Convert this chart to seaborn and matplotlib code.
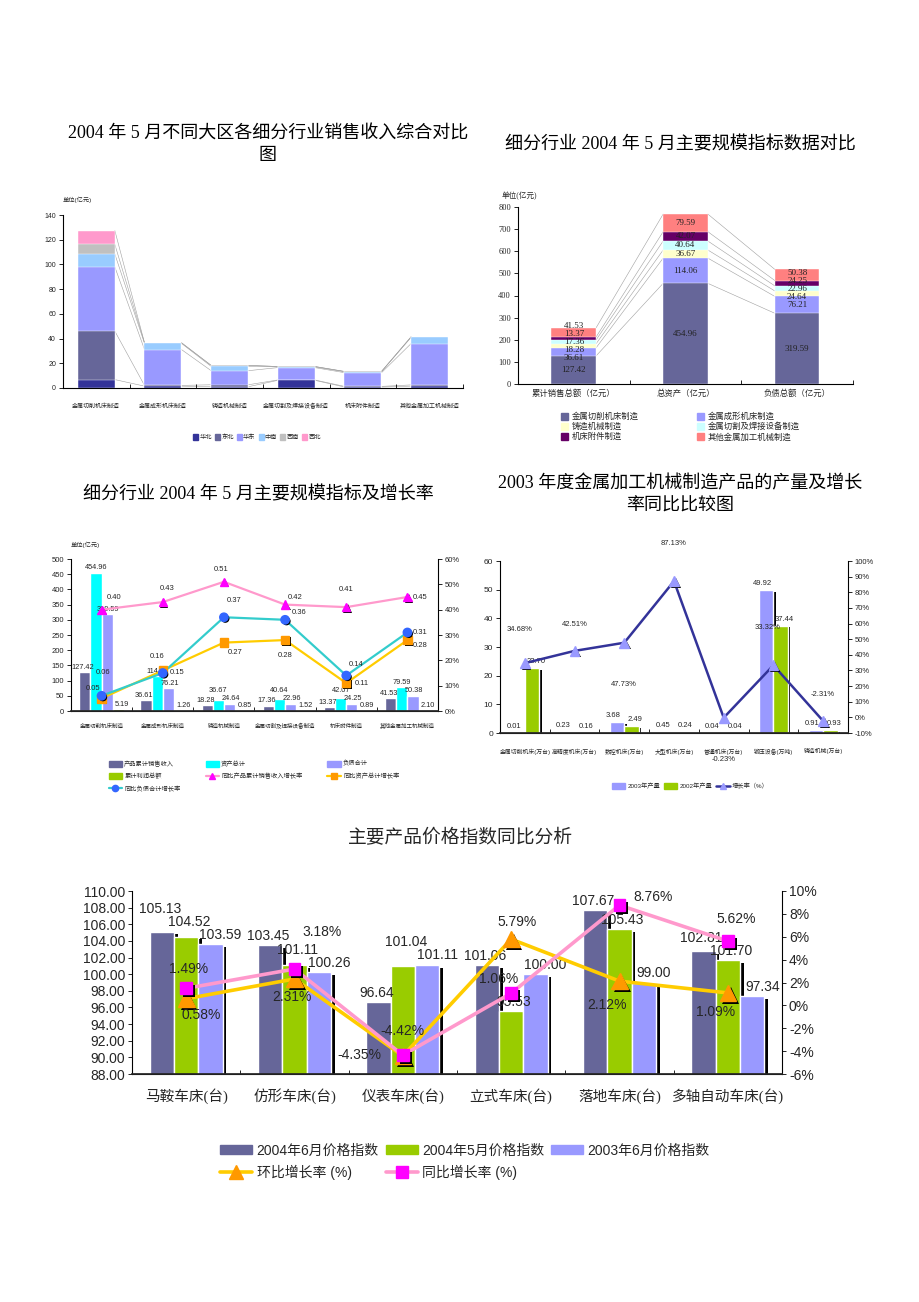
import numpy as np
import pandas as pd
import matplotlib
matplotlib.use('Agg')
import matplotlib.pyplot as plt
import matplotlib.patheffects as pe
from matplotlib.patches import Patch
from matplotlib.lines import Line2D
from matplotlib.ticker import MultipleLocator, FuncFormatter, FixedLocator
import seaborn as sns

sns.set_theme(style='ticks')
plt.rcParams['font.family'] = ['Liberation Sans', 'Noto Sans CJK SC', 'DejaVu Sans']
plt.rcParams['axes.unicode_minus'] = False
SERIF = ['Liberation Serif', 'Noto Sans CJK SC', 'DejaVu Sans']

# ---------------- data ----------------
industries = ['金属切削机床制造', '金属成形机床制造', '铸造机械制造',
              '金属切割及焊接设备制造', '机床附件制造', '其他金属加工机械制造']

# chart 1: sales by region (亿元)
regions = ['华北', '东北', '华东', '中南', '西南', '西北']
north = [6.8, 1.5, 1.0, 6.2, 0.8, 1.5]
northeast = [39.2, 0.6, 1.6, 0.3, 0.5, 1.0]
east = [52.0, 29.0, 11.4, 10.0, 11.1, 33.5]
central = [10.4, 5.0, 3.5, 0.6, 0.8, 5.0]
southwest = [7.8, 0.5, 0.8, 0.3, 0.2, 0.5]
northwest = [11.2, 0.0, 0.0, 0.0, 0.0, 0.0]

# chart 2 / 3: main indicators (亿元)
metrics = ['累计销售总额（亿元）', '总资产（亿元）', '负债总额（亿元）']
sales = [127.42, 36.61, 18.28, 17.36, 13.37, 41.53]
assets = [454.96, 114.06, 36.67, 40.64, 42.07, 79.59]
liabilities = [319.59, 76.21, 24.64, 22.96, 24.25, 50.38]
profit = [5.19, 1.26, 0.85, 1.52, 0.89, 2.10]
sales_growth = [0.40, 0.43, 0.51, 0.42, 0.41, 0.45]
asset_growth = [0.05, 0.16, 0.27, 0.28, 0.11, 0.28]
liab_growth = [0.06, 0.15, 0.37, 0.36, 0.14, 0.31]

# chart 4: 2003 output
products = ['金属切削机床(万台)', '高精度机床(万台)', '数控机床(万台)', '大型机床(万台)',
            '普通机床(万台)', '锻压设备(万吨)', '铸造机械(万台)']
output_2003 = [0.01, 0.23, 3.68, 0.45, 0.04, 49.92, 0.91]
output_2002 = [22.70, 0.16, 2.49, 0.24, 0.04, 37.44, 0.93]
output_growth = [34.68, 42.51, 47.73, 87.13, -0.23, 33.32, -2.31]

# chart 5: price index
lathes = ['马鞍车床(台)', '仿形车床(台)', '仪表车床(台)', '立式车床(台)', '落地车床(台)', '多轴自动车床(台)']
idx_2004_06 = [105.13, 103.45, 96.64, 101.06, 107.67, 102.81]
idx_2004_05 = [104.52, 101.11, 101.04, 95.53, 105.43, 101.70]
idx_2003_06 = [103.59, 100.26, 101.11, 100.00, 99.00, 97.34]
mom_growth = [0.58, 2.31, -4.42, 5.79, 2.12, 1.09]
yoy_growth = [1.49, 3.18, -4.35, 1.06, 8.76, 5.62]

# ---------------- helpers ----------------
W, H = 920, 1302
fig = plt.figure(figsize=(W / 100, H / 100), dpi=100)
fig.patch.set_facecolor('white')


def px_axes(l, t, r, b):
    return fig.add_axes([l / W, 1 - b / H, (r - l) / W, (b - t) / H])


def excel_axis(ax, n, xfs, yfs, xpad):
    ax.set_xlim(-0.5, n - 0.5)
    ax.set_xlabel('')
    ax.set_ylabel('')
    ax.tick_params(axis='x', which='major', length=0, labelsize=xfs, pad=xpad)
    ax.xaxis.set_minor_locator(FixedLocator(np.arange(n + 1) - 0.5))
    ax.tick_params(axis='x', which='minor', length=3, direction='in', width=0.6, color='black')
    ax.tick_params(axis='y', labelsize=yfs, length=3, width=0.6, color='black', pad=2)
    ax.spines['top'].set_visible(False)
    ax.spines['right'].set_visible(False)
    for s in ['left', 'bottom']:
        ax.spines[s].set_linewidth(0.8)
        ax.spines[s].set_color('black')


def right_axis(ax, fs):
    ax.tick_params(axis='y', labelsize=fs, length=3, width=0.6, color='black', pad=2)
    ax.spines['top'].set_visible(False)
    ax.spines['left'].set_visible(False)
    ax.spines['right'].set_linewidth(0.8)
    ax.spines['right'].set_color('black')


def spread(pos, gap):
    pos = list(pos)
    for _ in range(300):
        for i in range(len(pos) - 1):
            d = pos[i + 1] - pos[i]
            if d < gap:
                m = (gap - d) / 2
                pos[i] -= m
                pos[i + 1] += m
    return pos


def stagger_labels(ax, containers, shifts_px, fontsize, pad_px, box_w, box_h):
    # label each bar, pushing a label upward when it would collide with a neighbour's
    for i in range(len(containers[0])):
        placed = []
        for k in range(len(containers) - 1, -1, -1):
            rect = containers[k][i]
            xc = rect.get_x() + rect.get_width() / 2
            top = rect.get_y() + rect.get_height()
            px, py = ax.transData.transform((xc, top))
            lx, ly = px + shifts_px[k], py + pad_px + box_h / 2
            moved = True
            while moved:
                moved = False
                for qx, qy in placed:
                    if abs(lx - qx) < box_w and abs(ly - qy) < box_h:
                        ly = qy + box_h
                        moved = True
            placed.append((lx, ly))
            ax.annotate(f'{top:.2f}', (xc, top), xytext=((lx - px) * 0.72, (ly - py) * 0.72),
                        textcoords='offset points', ha='center', va='center', fontsize=fontsize)


def title(x, y, s):
    fig.text(x / W, 1 - y / H, s, ha='center', va='center', fontsize=13,
             family=SERIF, linespacing=1.35, color='black')


# ---------------- chart 1 ----------------
title(268, 145, '2004 年 5 月不同大区各细分行业销售收入综合对比\n图')
ax1 = px_axes(63, 215, 463, 388)
region_colors = ['#333399', '#666699', '#9999FF', '#99CCFF', '#C0C0C0', '#FF99CC']
cum1 = np.cumsum(np.array([north, northeast, east, central, southwest, northwest]), axis=0)
bw1 = 0.555
for lvl in range(len(regions) - 1, -1, -1):
    sns.barplot(x=industries, y=cum1[lvl], color=region_colors[lvl], width=bw1, saturation=1,
                errorbar=None, edgecolor='white', linewidth=0.3, ax=ax1)
for lvl in range(len(regions)):
    for i in range(len(industries) - 1):
        ax1.plot([i + bw1 / 2, i + 1 - bw1 / 2], [cum1[lvl][i], cum1[lvl][i + 1]],
                 color='#A0A0A0', lw=0.4, zorder=0)
excel_axis(ax1, len(industries), 4.3, 5, 11)
ax1.set_ylim(0, 140)
ax1.yaxis.set_major_locator(MultipleLocator(20))
fig.text(63 / W, 1 - 200 / H, '单位(亿元)', fontsize=4.5, va='center')
fig.legend([Patch(color=c) for c in region_colors], regions, loc='center',
           bbox_to_anchor=(257 / W, 1 - 437 / H), ncol=6, fontsize=4.5, frameon=False,
           handlelength=0.8, handleheight=1.0, handletextpad=0.2, columnspacing=0.5)

# ---------------- chart 2 ----------------
title(680, 145, '细分行业 2004 年 5 月主要规模指标数据对比')
ax2 = px_axes(518, 207, 853, 384)
ind_colors = ['#666699', '#9999FF', '#FFFFCC', '#CCFFFF', '#660066', '#FF8080']
vals2 = np.array([sales, assets, liabilities]).T          # industries x metrics
cum2 = np.cumsum(vals2, axis=0)
bw2 = 0.4
for lvl in range(len(industries) - 1, -1, -1):
    sns.barplot(x=metrics, y=cum2[lvl], color=ind_colors[lvl], width=bw2, saturation=1,
                errorbar=None, edgecolor='white', linewidth=0.3, ax=ax2)
for lvl in range(len(industries)):
    for j in range(len(metrics) - 1):
        ax2.plot([j + bw2 / 2, j + 1 - bw2 / 2], [cum2[lvl][j], cum2[lvl][j + 1]],
                 color='#A0A0A0', lw=0.4, zorder=0)
for j in range(len(metrics)):
    centers = cum2[:, j] - vals2[:, j] / 2
    for v, yy in zip(vals2[:, j], spread(centers, 37)):
        ax2.text(j, yy, f'{v:.2f}', ha='center', va='center', fontsize=6.5,
                 family=SERIF, color='#222222')
excel_axis(ax2, len(metrics), 6, 6, 4)
ax2.set_ylim(0, 800)
ax2.yaxis.set_major_locator(MultipleLocator(100))
for lab in ax2.get_xticklabels() + ax2.get_yticklabels():
    lab.set_family(SERIF)
fig.text(502 / W, 1 - 196 / H, '单位(亿元)', fontsize=5.5, va='center', family=SERIF)
order2 = [0, 2, 4, 1, 3, 5]
fig.legend([Patch(color=ind_colors[i]) for i in order2], [industries[i] for i in order2],
           loc='upper left', bbox_to_anchor=(553 / W, 1 - 405 / H), ncol=2,
           frameon=False, handlelength=0.9, handleheight=0.9, handletextpad=0.4,
           columnspacing=7, labelspacing=0.2, prop={'family': SERIF, 'size': 6})

# ---------------- chart 3 ----------------
title(258, 495, '细分行业 2004 年 5 月主要规模指标及增长率')
ax3 = px_axes(71, 559, 438, 711)
bar_names3 = ['产品累计销售收入', '资产总计', '负债合计', '累计利润总额']
colors3 = ['#666699', '#00FFFF', '#9999FF', '#99CC00']
df3 = pd.DataFrame({
    '行业': industries * 4,
    '指标': [n for n in bar_names3 for _ in industries],
    '值': sales + assets + liabilities + profit,
})
sns.barplot(data=df3, x='行业', y='值', hue='指标', palette=colors3, width=0.73, gap=0,
            saturation=1, errorbar=None, legend=False, ax=ax3)
excel_axis(ax3, len(industries), 4, 5.5, 9)
ax3.set_ylim(0, 500)
ax3.yaxis.set_major_locator(MultipleLocator(50))
stagger_labels(ax3, ax3.containers, [-2, 0, 1, 4], 5.3, 1, 20, 7.5)
ax3r = ax3.twinx()
x3 = np.arange(len(industries))
lines3 = [
    (sales_growth, '#FF99CC', '^', '#FF00FF',
     [(9, 9), (3, 10), (-2, 9), (7, 5), (0, 13), (9, 0)]),
    (asset_growth, '#FFCC00', 's', '#FF9900',
     [(-6, 7), (-4, 10), (8, -7), (0, -11), (11, 0), (9, -4)]),
    (liab_growth, '#33CCCC', 'o', '#3366FF',
     [(1, 17), (10, 0), (7, 12), (10, 5), (7, 8), (9, 0)]),
]
for vals, lc, mk, mc, offs in lines3:
    ax3r.plot(x3, vals, color=lc, lw=1.6, zorder=2)
    ax3r.plot(x3, vals, ls='none', marker=mk, ms=6, mfc=mc, mec=mc, zorder=3,
              path_effects=[pe.SimplePatchShadow(offset=(1, -1), shadow_rgbFace='black', alpha=1),
                            pe.Normal()])
    for xi, v, off in zip(x3, vals, offs):
        ax3r.annotate(f'{v:.2f}', (xi, v), xytext=off, textcoords='offset points',
                      ha='center', va='center', fontsize=5.5)
ax3r.set_ylim(0, 0.6)
ax3r.yaxis.set_major_locator(MultipleLocator(0.1))
ax3r.yaxis.set_major_formatter(FuncFormatter(lambda v, p: f'{v * 100:.0f}%'))
right_axis(ax3r, 5.5)
fig.text(71 / W, 1 - 545 / H, '单位(亿元)', fontsize=4.5, va='center')
h3 = [Patch(color=c) for c in colors3] + [
    Line2D([], [], color=lc, lw=1.6, marker=mk, ms=4.5, mfc=mc, mec=mc) for _, lc, mk, mc, _ in lines3]
l3 = bar_names3 + ['同比产品累计销售收入增长率', '同比资产总计增长率', '同比负债合计增长率']
order3 = [0, 3, 6, 1, 4, 2, 5]
fig.legend([h3[i] for i in order3], [l3[i] for i in order3], loc='upper left',
           bbox_to_anchor=(103 / W, 1 - 755 / H), ncol=3, fontsize=4.5, frameon=False,
           handlelength=2.2, handleheight=1.1, handletextpad=0.3, columnspacing=4,
           labelspacing=1.0)

# ---------------- chart 4 ----------------
title(680, 495, '2003 年度金属加工机械制造产品的产量及增长\n率同比比较图')
ax4 = px_axes(500, 561, 848, 733)
df4 = pd.DataFrame({
    '产品': products * 2,
    '年份': ['2003年产量'] * len(products) + ['2002年产量'] * len(products),
    '产量': output_2003 + output_2002,
})
sns.barplot(data=df4, x='产品', y='产量', hue='年份', palette=['#9999FF', '#99CC00'],
            width=0.58, gap=0, saturation=1, errorbar=None, legend=False, ax=ax4)
for p in ax4.patches:
    p.set_path_effects([pe.withSimplePatchShadow(offset=(1.8, -1.2), shadow_rgbFace='black', alpha=1)])
excel_axis(ax4, len(products), 4.2, 6, 11)
ax4.set_ylim(0, 60)
ax4.yaxis.set_major_locator(MultipleLocator(10))
stagger_labels(ax4, ax4.containers, [-4, 4], 5.5, 2, 20, 9)
ax4r = ax4.twinx()
x4 = np.arange(len(products))
ax4r.plot(x4, output_growth, color='#333399', lw=1.8, zorder=2)
ax4r.plot(x4, output_growth, ls='none', marker='^', ms=7, mfc='#9999FF', mec='#9999FF', zorder=3,
          path_effects=[pe.SimplePatchShadow(offset=(1.2, -1.2), shadow_rgbFace='black', alpha=1),
                        pe.Normal()])
growth_offsets4 = [(-4, 24), (0, 19), (0, -30), (0, 27), (0, -30), (-4, 27), (0, 19)]
for xi, v, off in zip(x4, output_growth, growth_offsets4):
    ax4r.annotate(f'{v:.2f}%', (xi, v), xytext=off, textcoords='offset points',
                  ha='center', va='center', fontsize=5.5)
ax4r.set_ylim(-10, 100)
ax4r.yaxis.set_major_locator(MultipleLocator(10))
ax4r.yaxis.set_major_formatter(FuncFormatter(lambda v, p: f'{v:.0f}%'))
right_axis(ax4r, 5.5)
h4 = [Patch(color='#9999FF'), Patch(color='#99CC00'),
      Line2D([], [], color='#333399', lw=1.8, marker='^', ms=4.5, mfc='#9999FF', mec='#9999FF')]
fig.legend(h4, ['2003年产量', '2002年产量', '增长率（%）'], loc='center',
           bbox_to_anchor=(690 / W, 1 - 786 / H), ncol=3, fontsize=4.5, frameon=False,
           handlelength=2.2, handleheight=1.1, handletextpad=0.3, columnspacing=0.6)

# ---------------- chart 5 ----------------
fig.text(460 / W, 1 - 838 / H, '主要产品价格指数同比分析', ha='center', va='center',
         fontsize=13.5, family=SERIF)
ax5 = px_axes(132, 891, 782, 1074)
idx_names = ['2004年6月价格指数', '2004年5月价格指数', '2003年6月价格指数']
colors5 = ['#666699', '#99CC00', '#9999FF']
df5 = pd.DataFrame({
    '产品': lathes * 3,
    '指数': [n for n in idx_names for _ in lathes],
    '值': idx_2004_06 + idx_2004_05 + idx_2003_06,
})
sns.barplot(data=df5, x='产品', y='值', hue='指数', palette=colors5, width=0.675, gap=0,
            saturation=1, errorbar=None, legend=False, ax=ax5)
for p in ax5.patches:
    p.set_path_effects([pe.withSimplePatchShadow(offset=(2.6, -2), shadow_rgbFace='black', alpha=1)])
excel_axis(ax5, len(lathes), 10.5, 10, 10)
for lab in ax5.get_xticklabels():
    lab.set_family(SERIF)
ax5.set_ylim(88, 110)
ax5.yaxis.set_major_locator(MultipleLocator(2))
ax5.yaxis.set_major_formatter(FuncFormatter(lambda v, p: f'{v:.2f}'))
stagger_labels(ax5, ax5.containers, [-2, 3, 10], 10, 3, 44, 13)
ax5r = ax5.twinx()
x5 = np.arange(len(lathes))
ax5r.plot(x5, mom_growth, color='#FFCC00', lw=2.6, zorder=2)
ax5r.plot(x5, yoy_growth, color='#FF99CC', lw=2.6, zorder=2)
shadow = [pe.SimplePatchShadow(offset=(2, -2), shadow_rgbFace='black', alpha=1), pe.Normal()]
ax5r.plot(x5, mom_growth, ls='none', marker='^', ms=12, mfc='#FF9900', mec='#FF9900',
          zorder=3, path_effects=shadow)
ax5r.plot(x5, yoy_growth, ls='none', marker='s', ms=8.5, mfc='#FF00FF', mec='#FF00FF',
          zorder=4, path_effects=shadow)
yoy_offsets = [(2, 14), (20, 27), (-31, 0), (-9, 10), (24, 6), (6, 16)]
mom_offsets = [(11, -12), (-2, -13), (0, 18), (4, 12), (-9, -17), (-9, -14)]
for xi, v, off in zip(x5, yoy_growth, yoy_offsets):
    ax5r.annotate(f'{v:.2f}%', (xi, v), xytext=off, textcoords='offset points',
                  ha='center', va='center', fontsize=10)
for xi, v, off in zip(x5, mom_growth, mom_offsets):
    ax5r.annotate(f'{v:.2f}%', (xi, v), xytext=off, textcoords='offset points',
                  ha='center', va='center', fontsize=10)
ax5r.set_ylim(-6, 10)
ax5r.yaxis.set_major_locator(MultipleLocator(2))
ax5r.yaxis.set_major_formatter(FuncFormatter(lambda v, p: f'{v:.0f}%'))
right_axis(ax5r, 10)
h5 = [Patch(color=c) for c in colors5] + [
    Line2D([], [], color='#FFCC00', lw=2.6, marker='^', ms=10, mfc='#FF9900', mec='#FF9900'),
    Line2D([], [], color='#FF99CC', lw=2.6, marker='s', ms=8, mfc='#FF00FF', mec='#FF00FF')]
l5 = idx_names + ['环比增长率 (%)', '同比增长率 (%)']
order5 = [0, 3, 1, 4, 2]
fig.legend([h5[i] for i in order5], [l5[i] for i in order5], loc='upper left',
           bbox_to_anchor=(208 / W, 1 - 1131 / H), ncol=3, fontsize=10, frameon=False,
           handlelength=2.3, handleheight=0.6, handletextpad=0.3, columnspacing=0.5,
           labelspacing=0.5)

fig.savefig('out.png', dpi=100, facecolor='white')
